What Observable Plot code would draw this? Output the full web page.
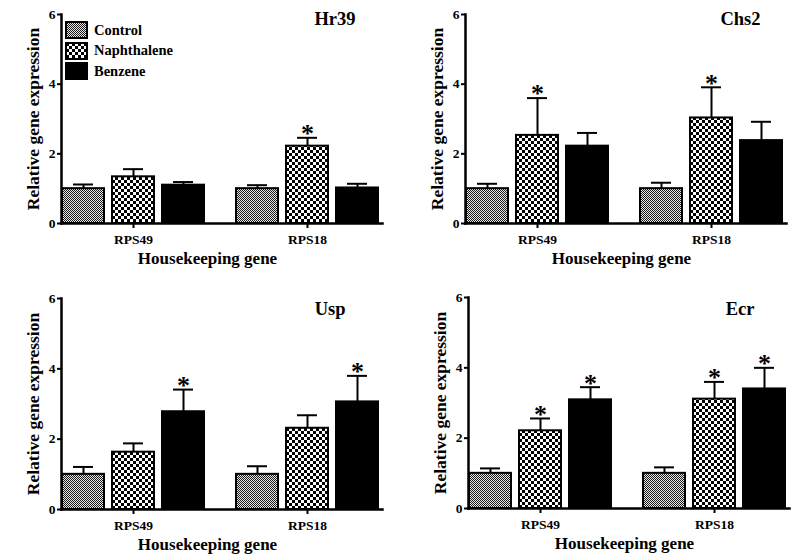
<!DOCTYPE html>
<html>
<head>
<meta charset="utf-8">
<script src="https://cdn.jsdelivr.net/npm/d3@7"></script>
<script src="https://cdn.jsdelivr.net/npm/@observablehq/plot@0.6"></script>
<style>
  html, body { margin: 0; padding: 0; background: #fff; }
  body { width: 793px; height: 557px; overflow: hidden; position: relative; }
  .panel { position: absolute; width: 400px; }
  .panel svg { overflow: visible; }
  .panel [aria-label="y-axis label"] text { font-size: 17.5px; }
  .panel [aria-label="y-axis tick label"] text { font-size: 13.5px; }
  .panel [aria-label="fx-axis tick label"] text { font-size: 13.5px; }
  #legend { position: absolute; left: 66px; top: 20px; }
  #legend, #legend * { font-family: "Liberation Serif", serif; font-weight: bold; font-size: 14.5px; color: #000; }
  #legend > div > div { height: 20.5px; padding: 0; margin: 0; display: flex; align-items: center; }
  #legend svg { margin-right: 7px; overflow: visible; }
  #legend rect { stroke: #000; stroke-width: 2px; }
</style>
</head>
<body>
<svg width="0" height="0" style="position:absolute">
  <defs>
    <pattern id="pCtrl" width="2" height="2" patternUnits="userSpaceOnUse">
      <rect width="2" height="2" fill="#e8e8e8"></rect>
      <rect width="1" height="1" fill="#1a1a1a"></rect>
      <rect x="1" y="1" width="1" height="1" fill="#1a1a1a"></rect>
    </pattern>
    <pattern id="pNaph" width="6" height="6" patternUnits="userSpaceOnUse">
      <rect width="6" height="6" fill="#fff"></rect>
      <rect width="3" height="3" fill="#000"></rect>
      <rect x="3" y="3" width="3" height="3" fill="#000"></rect>
    </pattern>
  </defs>
</svg>
<div id="p0" class="panel" style="left:0px; top:0px;"></div>
<div id="p1" class="panel" style="left:404px; top:0px;"></div>
<div id="p2" class="panel" style="left:0px; top:284px;"></div>
<div id="p3" class="panel" style="left:407px; top:283px;"></div>
<div id="legend"></div>
<script>
// ---------- data ----------
const treatments = ["Control", "Naphthalene", "Benzene"];
const genes = ["RPS49", "RPS18"];
const panelNames = ["Hr39", "Chs2", "Usp", "Ecr"];
const yTicks = [0, 2, 4, 6];
const xTitle = "Housekeeping gene";
const yTitle = "Relative gene expression";
// order: RPS49 (Control, Naphthalene, Benzene), RPS18 (Control, Naphthalene, Benzene)
const hr39Mean = [1.00, 1.34, 1.10, 1.00, 2.22, 1.02];
const hr39Err  = [0.12, 0.22, 0.09, 0.10, 0.24, 0.12];
const hr39Sig  = [0, 0, 0, 0, 1, 0];
const chs2Mean = [1.00, 2.53, 2.22, 1.00, 3.03, 2.38];
const chs2Err  = [0.14, 1.07, 0.38, 0.17, 0.88, 0.54];
const chs2Sig  = [0, 1, 0, 0, 1, 0];
const uspMean  = [1.00, 1.63, 2.78, 1.00, 2.31, 3.06];
const uspErr   = [0.21, 0.25, 0.63, 0.23, 0.37, 0.74];
const uspSig   = [0, 0, 1, 0, 0, 1];
const ecrMean  = [1.00, 2.21, 3.09, 1.00, 3.11, 3.40];
const ecrErr   = [0.14, 0.35, 0.36, 0.17, 0.49, 0.60];
const ecrSig   = [0, 1, 1, 0, 1, 1];

const seriesMean = [hr39Mean, chs2Mean, uspMean, ecrMean];
const seriesErr = [hr39Err, chs2Err, uspErr, ecrErr];
const seriesSig = [hr39Sig, chs2Sig, uspSig, ecrSig];

// ---------- layout (not data) ----------
const layout = [
  {height: 270, titleDx: -24, titleDy: -3, xLabelDx: -13},
  {height: 270, titleDx: -23, titleDy: -3, xLabelDx: -3},
  {height: 272, titleDx: -34, titleDy: 3, xLabelDx: -13},
  {height: 272, titleDx: -32, titleDy: 4, xLabelDx: -3}
];

const fillRange = ["url(#pCtrl)", "url(#pNaph)", "#000"];
const font = "'Liberation Serif', serif";

function rows(p) {
  const out = [];
  genes.forEach((g, gi) => treatments.forEach((t, ti) => {
    const i = gi * 3 + ti;
    out.push({gene: g, treatment: t, value: seriesMean[p][i], err: seriesErr[p][i], sig: seriesSig[p][i]});
  }));
  return out;
}

panelNames.forEach((name, p) => {
  const data = rows(p);
  const L = layout[p];
  const chart = Plot.plot({
    width: 398,
    height: L.height,
    marginLeft: 45,
    marginRight: 3,
    marginTop: 14,
    marginBottom: 47,
    style: {fontFamily: font, fontWeight: "bold", fontSize: "13px", color: "#000", background: "transparent"},
    fx: {domain: genes, paddingInner: 0.17, paddingOuter: 0.09, label: null},
    x: {domain: treatments, paddingInner: 0.16, paddingOuter: 0, axis: null},
    y: {domain: [0, 6], label: yTitle},
    color: {domain: treatments, range: fillRange},
    marks: [
      Plot.axisY({ticks: yTicks, tickFormat: "d", tickSize: 4, tickPadding: 2, strokeWidth: 2,
        label: yTitle, labelAnchor: "center", labelArrow: "none", labelOffset: 35}),
      Plot.axisFx({anchor: "bottom", tickSize: 5, tickPadding: 6, strokeWidth: 2, label: null}),
      Plot.ruleX(data, {fx: "gene", x: "treatment", y1: "value", y2: d => d.value + d.err, strokeWidth: 2, stroke: "#000"}),
      Plot.tickY(data, {fx: "gene", x: "treatment", y: d => d.value + d.err, strokeWidth: 2, stroke: "#000", inset: 11}),
      Plot.barY(data, {fx: "gene", x: "treatment", y: "value", fill: "treatment", stroke: "#000", strokeWidth: 2}),
      Plot.text(data.filter(d => d.sig), {fx: "gene", x: "treatment", y: d => d.value + d.err,
        text: () => "*", lineAnchor: "middle", dy: -4, fontSize: 26, fontWeight: "bold", fill: "#000"}),
      Plot.frame({anchor: "left", facet: "super", strokeWidth: 2.5, stroke: "#000"}),
      Plot.frame({anchor: "bottom", facet: "super", strokeWidth: 2.5, stroke: "#000", insetRight: -3}),
      Plot.text([xTitle], {facet: "super", frameAnchor: "bottom", text: d => d, dx: L.xLabelDx, dy: 40,
        lineAnchor: "bottom", fontSize: 17, fontWeight: "bold", fill: "#000"}),
      Plot.text([name], {facet: "super", frameAnchor: "top-right", text: d => d, dx: L.titleDx, dy: L.titleDy,
        fontSize: 18.5, fontWeight: "bold", fill: "#000"})
    ]
  });
  document.getElementById("p" + p).appendChild(chart);
});

const legend = Plot.legend({
  color: {domain: treatments, range: fillRange},
  legend: "swatches",
  columns: 1,
  swatchWidth: 21,
  swatchHeight: 16,
  style: {fontFamily: font, fontWeight: "bold", fontSize: "14.5px"}
});
document.getElementById("legend").appendChild(legend);
</script>
</body>
</html>
